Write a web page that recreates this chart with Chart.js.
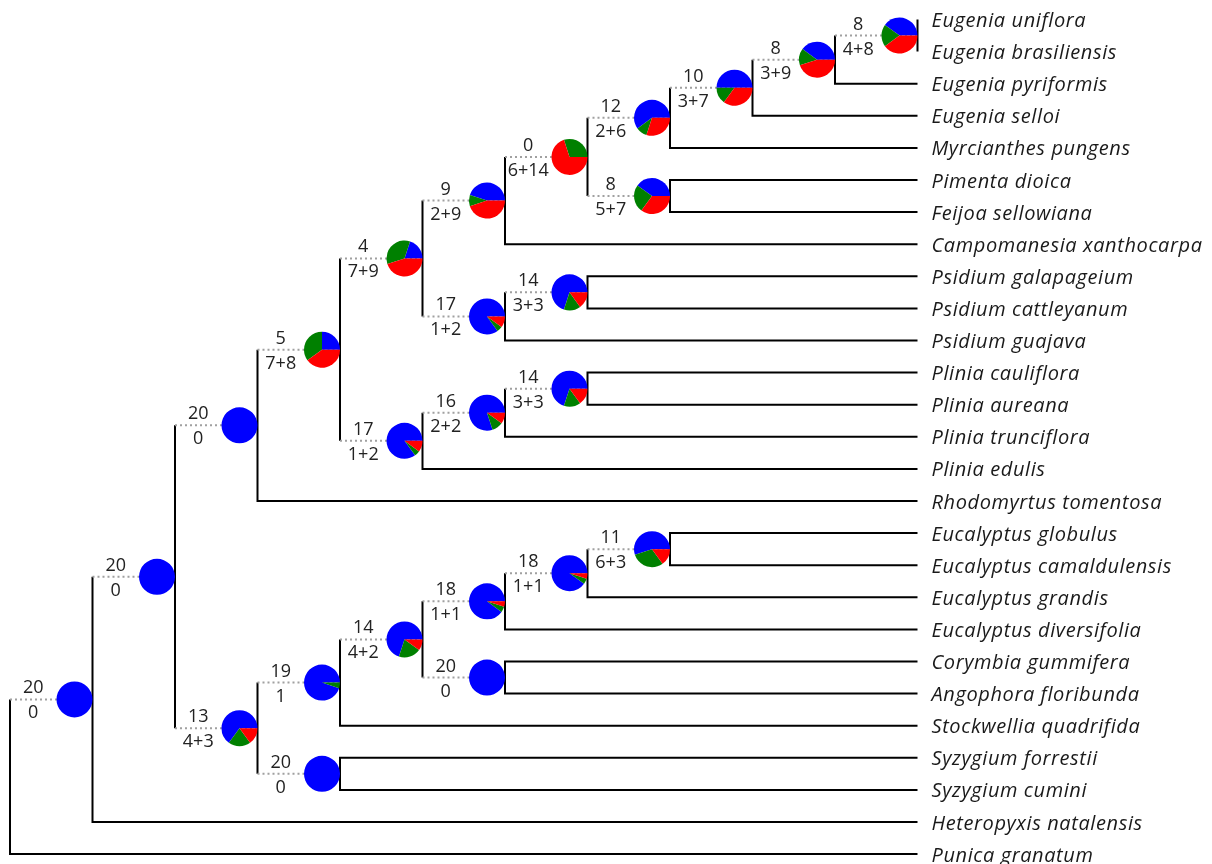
<!DOCTYPE html>
<html>
<head>
<meta charset="utf-8">
<title>Myrtaceae tree with ancestral state pies</title>
<script src="https://cdn.jsdelivr.net/npm/chart.js@4.4.1/dist/chart.umd.min.js"></script>
<style>
  html, body { margin: 0; padding: 0; background: #ffffff; }
  #wrap { width: 1212px; height: 864px; position: relative; }
</style>
</head>
<body>
<div id="wrap"><canvas id="tree" width="1212" height="864"></canvas></div>
<script>
// Tip taxa, top to bottom (tip index = row)
const tipNames = [
  'Eugenia uniflora', 'Eugenia brasiliensis', 'Eugenia pyriformis', 'Eugenia selloi',
  'Myrcianthes pungens', 'Pimenta dioica', 'Feijoa sellowiana', 'Campomanesia xanthocarpa',
  'Psidium galapageium', 'Psidium cattleyanum', 'Psidium guajava', 'Plinia cauliflora',
  'Plinia aureana', 'Plinia trunciflora', 'Plinia edulis', 'Rhodomyrtus tomentosa',
  'Eucalyptus globulus', 'Eucalyptus camaldulensis', 'Eucalyptus grandis', 'Eucalyptus diversifolia',
  'Corymbia gummifera', 'Angophora floribunda', 'Stockwellia quadrifida', 'Syzygium forrestii',
  'Syzygium cumini', 'Heteropyxis natalensis', 'Punica granatum'
];

// Internal nodes: id, its two children ("t<n>" = tip n), and depth from the root
const nodeIds    = ['root','A','B','C','E','F','H','J','K','M','N','O','L','I','P','G','Q','R','D','S','U','V','X','Y','W','T'];
const nodeKids   = [
  ['A','t26'], ['B','t25'], ['C','D'], ['E','t15'], ['F','G'], ['H','I'], ['J','t7'], ['K','L'],
  ['M','t4'], ['N','t3'], ['O','t2'], ['t0','t1'], ['t5','t6'], ['P','t10'], ['t8','t9'],
  ['Q','t14'], ['R','t13'], ['t11','t12'], ['S','T'], ['U','t22'], ['V','W'], ['X','t19'],
  ['Y','t18'], ['t16','t17'], ['t20','t21'], ['t23','t24']
];
const nodeDepth  = [0,1,2,3,4,5,6,7,8,9,10,11,8,6,7,5,6,7,3,4,5,6,7,8,6,4];

// State counts at each node (out of 20): blue / green / red
const blueCounts  = [null,20,20,20, 5, 4, 9, 0,12,10, 8, 8, 8,17,14,17,16,14,13,19,14,18,18,11,20,20];
const greenCounts = [null, 0, 0, 0, 7, 7, 2, 6, 2, 3, 3, 4, 5, 1, 3, 1, 2, 3, 4, 1, 4, 1, 1, 6, 0, 0];
const redCounts   = [null, 0, 0, 0, 8, 9, 9,14, 6, 7, 9, 8, 7, 2, 3, 2, 2, 3, 3, 0, 2, 1, 1, 3, 0, 0];

const stateColors = ['#0000ff', '#008000', '#ff0000'];
const tipDepth = 11;       // all tips line up at this depth
const pieRadius = 18;      // px
const labelFont = '18px "Open Sans", sans-serif';
const tipFont = 'italic 20px "Open Sans", sans-serif';

// ---- layout of the tree (in depth / row units) ----
const idx = {};
nodeIds.forEach((id, i) => { idx[id] = i; });
const nodeY = {};
function yOf(ref) {
  if (ref[0] === 't') return +ref.slice(1);
  if (nodeY[ref] !== undefined) return nodeY[ref];
  const kids = nodeKids[idx[ref]];
  const y = (yOf(kids[0]) + yOf(kids[1])) / 2;
  nodeY[ref] = y;
  return y;
}
nodeIds.forEach(id => yOf(id));

const solidSets = [];
const dottedSets = [];
const lineStyle = { borderColor: '#000000', borderWidth: 2, pointRadius: 0, pointHoverRadius: 0,
  showLine: true, tension: 0, borderJoinStyle: 'miter', borderCapStyle: 'butt', fill: false };
nodeIds.forEach((id, i) => {
  const d = nodeDepth[i];
  const [k1, k2] = nodeKids[i];
  const pts = [];
  const isTip1 = k1[0] === 't', isTip2 = k2[0] === 't';
  if (isTip1) pts.push({ x: tipDepth, y: yOf(k1) });
  pts.push({ x: d, y: yOf(k1) });
  pts.push({ x: d, y: yOf(k2) });
  if (isTip2) pts.push({ x: tipDepth, y: yOf(k2) });
  solidSets.push(Object.assign({ data: pts }, lineStyle));
  [k1, k2].forEach(k => {
    if (k[0] !== 't') {
      dottedSets.push(Object.assign({}, lineStyle, {
        data: [{ x: d, y: yOf(k) }, { x: nodeDepth[idx[k]], y: yOf(k) }],
        borderColor: '#a0a0a0', borderDash: [2, 3]
      }));
    }
  });
});

// parent depth of every internal node (for stem labels)
const parentDepth = {};
nodeIds.forEach((id, i) => nodeKids[i].forEach(k => { if (k[0] !== 't') parentDepth[k] = nodeDepth[i]; }));

// ---- pies, count labels and tip names ----
const treeDecor = {
  id: 'treeDecor',
  afterDatasetsDraw(chart) {
    const ctx = chart.ctx, xs = chart.scales.x, ys = chart.scales.y;
    ctx.save();
    nodeIds.forEach((id, i) => {
      if (blueCounts[i] === null) return;
      const vx = xs.getPixelForValue(nodeDepth[i]);
      const cy = ys.getPixelForValue(nodeY[id]);
      const cx = vx - pieRadius;
      const counts = [blueCounts[i], greenCounts[i], redCounts[i]];
      const total = counts.reduce((a, b) => a + b, 0);
      // slices run counter-clockwise from 3 o'clock
      let a0 = 0;
      counts.forEach((c, s) => {
        if (c <= 0) return;
        const a1 = a0 - (c / total) * Math.PI * 2;
        ctx.beginPath();
        ctx.moveTo(cx, cy);
        ctx.arc(cx, cy, pieRadius, a0, a1, true);
        ctx.closePath();
        ctx.fillStyle = stateColors[s];
        ctx.fill();
        a0 = a1;
      });
      // stem labels
      const px = xs.getPixelForValue(parentDepth[id]);
      const mx = (px + (vx - 2 * pieRadius)) / 2;
      ctx.fillStyle = '#222222';
      ctx.font = labelFont;
      ctx.textAlign = 'center';
      ctx.textBaseline = 'alphabetic';
      ctx.fillText(String(blueCounts[i]), mx, cy - 6);
      const lower = redCounts[i] > 0 ? greenCounts[i] + '+' + redCounts[i] : String(greenCounts[i]);
      ctx.fillText(lower, mx, cy + 19);
    });
    ctx.font = tipFont;
    ctx.letterSpacing = '0.6px';
    ctx.fillStyle = '#1a1a1a';
    ctx.textAlign = 'left';
    ctx.textBaseline = 'alphabetic';
    const lx = xs.getPixelForValue(tipDepth) + 14;
    tipNames.forEach((n, t) => ctx.fillText(n, lx, ys.getPixelForValue(t) + 7.5));
    ctx.restore();
  }
};

const depthPx = 82.5, rowPx = 32.1, x0 = 10, y0 = 19.5;
new Chart(document.getElementById('tree'), {
  type: 'scatter',
  data: { datasets: dottedSets.concat(solidSets) },
  options: {
    responsive: false,
    animation: false,
    events: [],
    layout: { padding: 0, autoPadding: false },
    plugins: { legend: { display: false }, tooltip: { enabled: false } },
    scales: {
      x: { type: 'linear', display: false, min: -x0 / depthPx, max: (1212 - x0) / depthPx },
      y: { type: 'linear', display: false, reverse: true, min: -y0 / rowPx, max: (864 - y0) / rowPx }
    }
  },
  plugins: [treeDecor]
});
</script>
</body>
</html>
